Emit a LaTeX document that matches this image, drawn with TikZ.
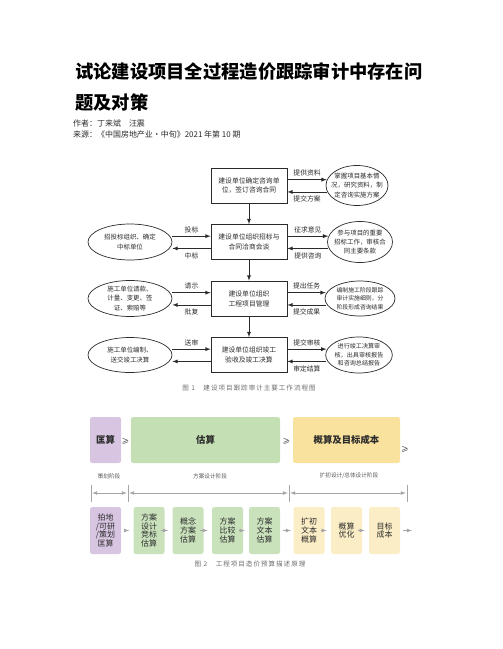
\documentclass[tikz,border=0pt]{standalone}
\usepackage{fontspec}
\setmainfont{Noto Sans CJK SC}
\usepackage{xcolor}
\usetikzlibrary{arrows,shapes,calc}
\definecolor{ink}{HTML}{2B2B2B}
\definecolor{capgray}{HTML}{6E6E6E}
\definecolor{purp}{HTML}{D8C5E1}
\definecolor{grn}{HTML}{C5DFB5}
\definecolor{yel}{HTML}{F8E29E}
\definecolor{grnlt}{HTML}{C9E2BC}
\definecolor{yellt}{HTML}{FBEDC6}

\begin{document}
\begin{tikzpicture}[x=0.03cm, y=-0.03cm, >=latex,
  box/.style={draw=ink, line width=0.6pt, minimum width=2.28cm, minimum height=1.05cm, align=center, inner sep=1pt, text=ink, font=\fontsize{5.8}{8.5}\selectfont},
  oval/.style={ellipse, draw=ink, line width=0.6pt, inner sep=0pt},
  otext/.style={align=center, inner sep=0pt, text=ink, font=\fontsize{5.5}{7.8}\selectfont},
  lab/.style={inner sep=0.5pt, text=ink, font=\fontsize{5.8}{7}\selectfont},
  conn/.style={->, draw=ink, line width=0.6pt},
  cost/.style={rounded corners=2pt, minimum height=1.38cm, text=ink, font=\fontsize{8}{9}\selectfont\bfseries},
  stage/.style={rounded corners=2pt, minimum width=0.93cm, minimum height=1.41cm, align=center, inner sep=0pt, text=ink, font=\fontsize{6.8}{7.4}\selectfont},
  phase/.style={inner sep=0pt, text=ink!80, font=\fontsize{4.8}{5}\selectfont},
  sarr/.style={->, draw=gray!70, line width=0.5pt},
  capt/.style={inner sep=0pt, text=capgray, font=\fontsize{5.6}{6}\selectfont\addfontfeature{LetterSpace=15}}]
\useasboundingbox (0,0) rectangle (502,649);

% title
\node[anchor=west, inner sep=0pt, font=\fontsize{15.6}{18}\selectfont\bfseries] (t1) at (75,72) {试论建设项目全过程造价跟踪审计中存在问};
\node[anchor=west, inner sep=0pt, font=\fontsize{15.6}{18}\selectfont\bfseries] (t2) at (75,102) {题及对策};
\node[anchor=west, inner sep=0pt, text=ink, font=\fontsize{6.8}{8}\selectfont] (au) at (73,123) {作者：丁来斌　汪震};
\node[anchor=west, inner sep=0pt, text=ink, font=\fontsize{6.8}{8}\selectfont] (src) at (73,134) {来源：《中国房地产业·中旬》2021 年第 10 期};

% figure 1
\node[box] (b1) at (249,185.5) {建设单位确定咨询单\\位，签订咨询合同};
\node[box] (b2) at (249,242) {建设单位组织招标与\\合同洽商会谈};
\node[box] (b3) at (249,298.5) {建设单位组织\\工程项目管理};
\node[box] (b4) at (249,355) {建设单位组织竣工\\验收及竣工决算};

\node[oval, minimum width=1.86cm, minimum height=1.2cm] (r1) at (357,185.5) {};
\node[otext] (r1t) at (r1) {掌握项目基本情\\况，研究资料，制\\定咨询实施方案};
\node[oval, minimum width=1.95cm, minimum height=1.23cm] (r2) at (360,242) {};
\node[otext] (r2t) at (r2) {参与项目的重要\\招标工作，审核合\\同主要条款};
\node[oval, minimum width=2.1cm, minimum height=1.05cm] (r3) at (360,298.5) {};
\node[otext, font=\fontsize{5}{7.4}\selectfont] (r3t) at (r3) {编制施工阶段跟踪\\审计实施细则，分\\阶段形成咨询结果};
\node[oval, minimum width=2.0cm, minimum height=1.08cm] (r4) at (359,355) {};
\node[otext, font=\fontsize{5.2}{7.4}\selectfont] (r4t) at (r4) {进行竣工决算审\\核，出具审核报告\\和咨询总结报告};

\node[oval, minimum width=2.52cm, minimum height=1.08cm] (l2) at (130,242) {};
\node[otext] (l2t) at (l2) {招投标组织、确定\\中标单位};
\node[oval, minimum width=2.52cm, minimum height=1.08cm] (l3) at (130,298.5) {};
\node[otext] (l3t) at (l3) {施工单位请款、\\计量、变更、签\\证、索赔等};
\node[oval, minimum width=2.52cm, minimum height=1.05cm] (l4) at (130,355) {};
\node[otext] (l4t) at (l4) {施工单位编制、\\送交竣工决算};

\foreach \a/\b in {1/2,2/3,3/4}
  \draw[conn] (b\a) -- (b\b);

\foreach \i/\u/\d in {1/提供资料/提交方案, 2/征求意见/提供咨询, 3/提出任务/提交成果, 4/提交审核/审定结算} {
  \draw[conn] ([yshift=5pt]b\i.east) -- node[lab, above=2pt] {\u} ([yshift=5pt,xshift=1pt]r\i.west);
  \draw[conn] ([yshift=-5.5pt,xshift=1pt]r\i.west) -- node[lab, below=2.5pt] {\d} ([yshift=-5.5pt]b\i.east);
}
\foreach \i/\u/\d in {2/投标/中标, 3/请示/批复} {
  \draw[conn] ([yshift=5pt]l\i.east) -- node[lab, above=2pt] {\u} ([yshift=5pt]b\i.west);
  \draw[conn] ([yshift=-5.5pt]b\i.west) -- node[lab, below=2.5pt] {\d} ([yshift=-5.5pt]l\i.east);
}
\draw[conn] ([yshift=5pt]l4.east) -- node[lab, above=2pt] {送审} ([yshift=5pt]b4.west);
\draw[conn] ([yshift=-5.5pt]b4.west) -- ([yshift=-5.5pt]l4.east);

\node[capt] (cap1) at (249,388) {图 1　建设项目跟踪审计主要工作流程图};

% figure 2
\node[cost, fill=purp, minimum width=0.93cm] (q1) at (105.5,440) {匡算};
\node[cost, fill=grn, minimum width=4.47cm] (q2) at (205.5,440) {估算};
\node[cost, fill=yel, minimum width=3.21cm] (q3) at (346.5,440) {概算及目标成本};
\node[lab, font=\fontsize{6.5}{7}\selectfont] (g1) at (125.5,442) {≥};
\node[lab, font=\fontsize{6.5}{7}\selectfont] (g2) at (286.5,442) {≥};
\node[lab, font=\fontsize{6.5}{7}\selectfont] (g3) at (405,450) {≥};

\node[phase] (f1) at (109,476) {策划阶段};
\node[phase] (f2) at (210,476) {方案设计阶段};
\node[phase] (f3) at (349,476) {扩初设计/总体设计阶段};
\coordinate (k1) at (91,493);
\coordinate (k2) at (128,493);
\coordinate (k3) at (289,493);
\coordinate (k4) at (407,493);
\foreach \k in {k1,k2,k3,k4}
  \draw[gray!70, line width=0.5pt] ($(\k)+(0,-8)$) -- ($(\k)+(0,9)$);
\foreach \a/\b in {k1/k2,k2/k3,k3/k4}
  \draw[<->, gray!70, line width=0.5pt, shorten <=1pt, shorten >=1pt] (\a) -- (\b);

\node[stage, fill=purp] (p1) at (105.5,530.5) {拍地\\/可研\\/策划\\匡算};
\node[stage, fill=grnlt] (p2) at (149,530.5) {方案\\设计\\竞标\\估算};
\node[stage, fill=grnlt] (p3) at (188,530.5) {概念\\方案\\估算};
\node[stage, fill=grnlt] (p4) at (227.5,530.5) {方案\\比较\\估算};
\node[stage, fill=grnlt] (p5) at (264.5,530.5) {方案\\文本\\估算};
\node[stage, fill=yellt] (p6) at (309,530.5) {扩初\\文本\\概算};
\node[stage, fill=yellt] (p7) at (346.5,530.5) {概算\\优化};
\node[stage, fill=yellt] (p8) at (384.5,530.5) {目标\\成本};
\coordinate (pe) at (412,530.5);
\foreach \a/\b in {p1/p2,p2/p3,p3/p4,p4/p5,p6/p7,p7/p8}
  \draw[sarr, shorten <=3.5pt, shorten >=3.5pt] (\a) -- (\b);
\draw[sarr, shorten <=2pt, shorten >=2pt] (p5) -- (p6);
\draw[sarr, shorten <=2.5pt] (p8) -- (pe);

\node[capt] (cap2) at (250,564) {图 2　工程项目造价预算描述原理};
\end{tikzpicture}
\end{document}
